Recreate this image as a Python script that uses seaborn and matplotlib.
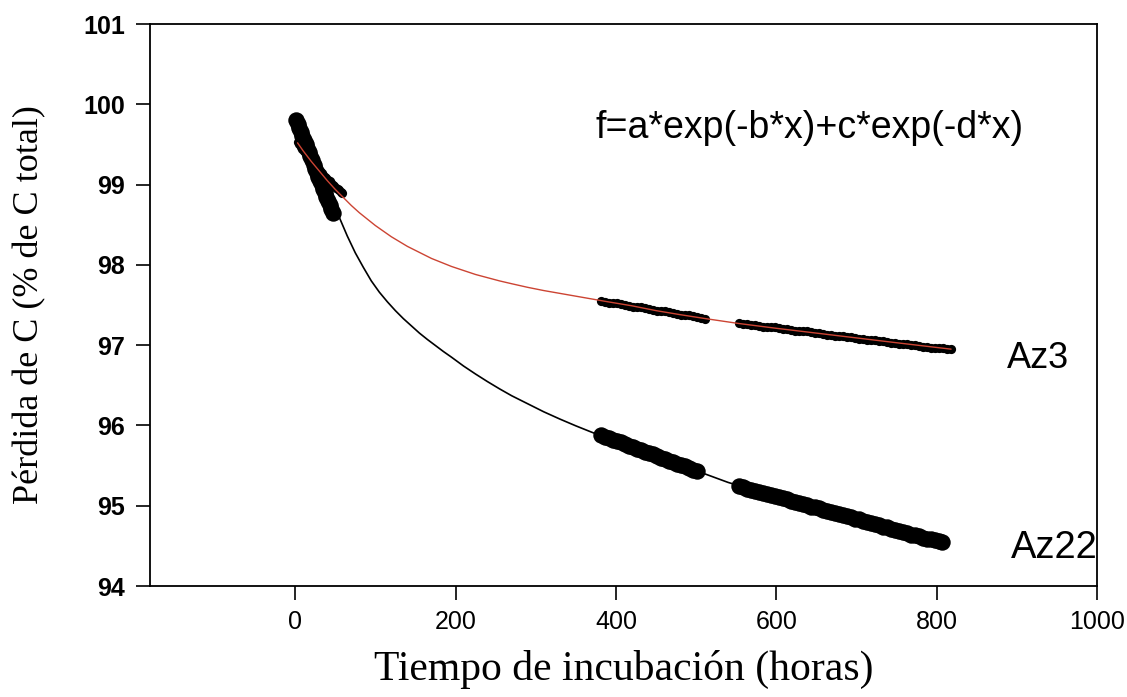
import matplotlib
matplotlib.use("Agg")
import matplotlib.pyplot as plt
import seaborn as sns
import pandas as pd

# ---- Data ----
# Sampling times (hours) of the observed points
az22_x = (list(range(1, 48, 2))            # early readings
          + list(range(381, 502, 5))       # second batch
          + list(range(553, 804, 5)) + [807])
az22_y = [99.80, 99.75, 99.70, 99.65, 99.60, 99.55, 99.50, 99.45, 99.40, 99.35, 99.30, 99.25,
          99.20, 99.15, 99.10, 99.05, 99.00, 98.95, 98.90, 98.85, 98.80, 98.75, 98.70, 98.65,
          95.88, 95.86, 95.84, 95.82, 95.81, 95.79, 95.77, 95.75, 95.73, 95.71, 95.69, 95.67, 95.66,
          95.64, 95.62, 95.60, 95.58, 95.56, 95.54, 95.52, 95.51, 95.49, 95.47, 95.45, 95.43,
          95.24, 95.23, 95.21, 95.20, 95.18, 95.17, 95.16, 95.14, 95.13, 95.12, 95.11, 95.09, 95.08,
          95.06, 95.05, 95.04, 95.02, 95.01, 94.99, 94.98, 94.97, 94.95, 94.94, 94.92, 94.91, 94.90,
          94.89, 94.87, 94.86, 94.84, 94.83, 94.81, 94.80, 94.79, 94.77, 94.76, 94.74, 94.73, 94.71,
          94.70, 94.69, 94.67, 94.66, 94.64, 94.63, 94.62, 94.60, 94.59, 94.58, 94.57, 94.56, 94.55]

az3_x = (list(range(3, 60, 2))
         + list(range(381, 512, 5))
         + list(range(553, 819, 5)))
az3_y = [99.53, 99.50, 99.47, 99.44, 99.42, 99.39, 99.36, 99.34, 99.31, 99.29, 99.26, 99.24, 99.21,
         99.19, 99.17, 99.14, 99.12, 99.10, 99.08, 99.06, 99.04, 99.02, 99.00, 98.98, 98.96, 98.95,
         98.93, 98.91, 98.90,
         97.55, 97.54, 97.53, 97.53, 97.52, 97.51, 97.50, 97.49, 97.48, 97.47, 97.47, 97.46, 97.45,
         97.44, 97.43, 97.42, 97.42, 97.41, 97.40, 97.39, 97.38, 97.37, 97.37, 97.36, 97.35, 97.34, 97.33,
         97.27, 97.26, 97.26, 97.25, 97.25, 97.24, 97.23, 97.23, 97.22, 97.22, 97.21, 97.20, 97.20,
         97.19, 97.18, 97.18, 97.17, 97.17, 97.16, 97.15, 97.15, 97.14, 97.13, 97.13, 97.12, 97.12,
         97.11, 97.10, 97.10, 97.09, 97.08, 97.08, 97.07, 97.07, 97.06, 97.05, 97.05, 97.04, 97.03,
         97.03, 97.02, 97.02, 97.01, 97.00, 97.00, 96.99, 96.98, 96.98, 96.97, 96.97, 96.96, 96.96,
         96.95, 96.95]

# Fitted curves
fit22_x = [0, 56, 65, 75, 85, 95, 105, 115, 125, 135, 145, 155, 165, 175, 185, 195, 210, 225, 240,
           255, 270, 290, 310, 330, 350, 370, 390, 420, 450, 480, 510, 540, 570, 600, 650, 700, 750, 810]
fit22_y = [99.80, 98.57, 98.36, 98.15, 97.97, 97.80, 97.66, 97.54, 97.43, 97.33, 97.24, 97.15, 97.07,
           96.995, 96.92, 96.85, 96.74, 96.64, 96.545, 96.455, 96.37, 96.27, 96.17, 96.08, 95.995,
           95.915, 95.84, 95.73, 95.62, 95.51, 95.40, 95.29, 95.20, 95.11, 94.98, 94.85, 94.71, 94.55]

fit3_x = [3, 10, 20, 30, 40, 50, 60, 70, 80, 90, 100, 110, 120, 130, 140, 150, 160, 170, 180, 195,
          210, 225, 240, 255, 270, 290, 310, 330, 350, 370, 390, 420, 450, 480, 512, 553, 600, 650,
          700, 750, 818]
fit3_y = [99.52, 99.42, 99.29, 99.17, 99.05, 98.94, 98.84, 98.74, 98.65, 98.57, 98.49, 98.42, 98.35,
          98.29, 98.23, 98.18, 98.13, 98.08, 98.04, 97.98, 97.93, 97.88, 97.84, 97.80, 97.765, 97.72,
          97.68, 97.645, 97.61, 97.575, 97.54, 97.49, 97.43, 97.38, 97.33, 97.27, 97.21, 97.15, 97.09,
          97.03, 96.95]

x_ticks = [0, 200, 400, 600, 800, 1000]
y_ticks = [94, 95, 96, 97, 98, 99, 100, 101]

equation = "f=a*exp(-b*x)+c*exp(-d*x)"
xlabel = "Tiempo de incubación (horas)"
ylabel = "Pérdida de C (% de C total)"

# ---- Plot ----
sns.set_style("ticks")
plt.rcParams['font.family'] = ['Liberation Sans', 'DejaVu Sans']
plt.rcParams['text.color'] = 'black'
plt.rcParams['axes.labelcolor'] = 'black'
plt.rcParams['xtick.color'] = 'black'
plt.rcParams['ytick.color'] = 'black'

fig = plt.figure(figsize=(11.27, 6.97), dpi=100)
ax = fig.add_axes([150 / 1127, 1 - 586 / 697, (1097 - 150) / 1127, (586 - 24) / 697])

df22 = pd.DataFrame({"x": az22_x, "y": az22_y})
df3 = pd.DataFrame({"x": az3_x, "y": az3_y})
dfit22 = pd.DataFrame({"x": fit22_x, "y": fit22_y})
dfit3 = pd.DataFrame({"x": fit3_x, "y": fit3_y})

sns.scatterplot(data=df22, x="x", y="y", ax=ax, color="black", s=140, linewidth=0, marker="o", zorder=2)
sns.scatterplot(data=df3, x="x", y="y", ax=ax, color="black", s=44, linewidth=0, marker="o", zorder=2)
sns.lineplot(data=dfit22, x="x", y="y", ax=ax, color="black", linewidth=1.2, sort=False, estimator=None, zorder=3)
sns.lineplot(data=dfit3, x="x", y="y", ax=ax, color="#cc4433", linewidth=1.0, sort=False, estimator=None, zorder=3)

ax.set_xlim(-181, 1000)
ax.set_ylim(94, 101)
ax.set_xticks(x_ticks)
ax.set_yticks(y_ticks)
ax.set_xticklabels([str(t) for t in x_ticks], fontsize=18, family='Liberation Sans')
ax.set_yticklabels([str(t) for t in y_ticks], fontsize=18, fontweight='bold', family='Liberation Sans')
ax.tick_params(axis='both', direction='out', length=10, width=1.2, colors='black', pad=8)
ax.tick_params(axis='x', pad=7)

for sp in ax.spines.values():
    sp.set_visible(True)
    sp.set_linewidth(1.3)
    sp.set_color('black')

ax.set_xlabel(xlabel, fontsize=30, family=['Liberation Serif', 'DejaVu Serif'])
ax.set_ylabel(ylabel, fontsize=26, family=['Liberation Serif', 'DejaVu Serif'])
ax.xaxis.set_label_coords(0.5, -0.148)
ax.yaxis.set_label_coords(-0.127, 0.5)
ax.xaxis.label.set_va('center')
ax.yaxis.label.set_va('center')

ax.text(641, 99.71, equation, fontsize=27, ha='center', va='center', family='Liberation Sans')
ax.text(926, 96.83, "Az3", fontsize=26, ha='center', va='center', family='Liberation Sans')
ax.text(947, 94.47, "Az22", fontsize=27.5, ha='center', va='center', family='Liberation Sans')

fig.savefig("out.png", dpi=100, facecolor="white")
